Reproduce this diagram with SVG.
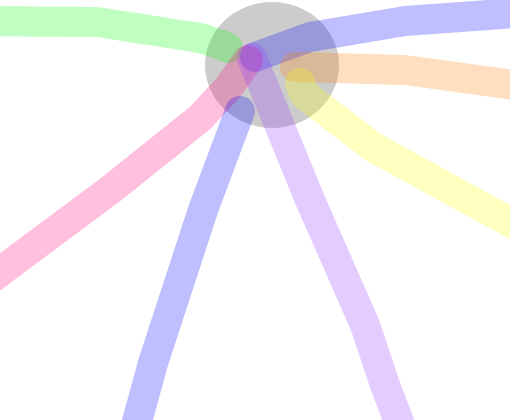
<svg xmlns="http://www.w3.org/2000/svg" width="510" height="420" viewBox="0 0 510 420">
<style>
.e{fill:none;stroke-width:30;stroke-linecap:round;stroke-linejoin:round}
</style>
<rect width="510" height="420" fill="#fff"/>
<g id="node"><ellipse cx="272" cy="65" rx="67" ry="63" fill="#000" fill-opacity="0.2"/></g>
<g id="connectors">
<polyline class="e" stroke="rgba(0,255,0,0.25)" points="-20,21 97,22 200,38 222,45 228,48"/>
<polyline class="e" stroke="rgba(0,0,255,0.25)" points="530,12 405,21 310,37 255,57"/>
<polyline class="e" stroke="rgba(255,128,0,0.25)" points="530,87 405,70 297,67 295,67"/>
<polyline class="e" stroke="rgba(255,255,0,0.25)" points="530,233 373,147 305,95 300,83"/>
<polyline class="e" stroke="rgba(255,0,128,0.25)" points="-20,287 20,257 110,190 200,118 228,88 248,60"/>
<polyline class="e" stroke="rgba(0,0,255,0.25)" points="132,440 153,363 203,210 240,111"/>
<polyline class="e" stroke="rgba(153,51,255,0.25)" points="406,440 385,385 365,325 310,200 252,58"/>
</g>
</svg>
